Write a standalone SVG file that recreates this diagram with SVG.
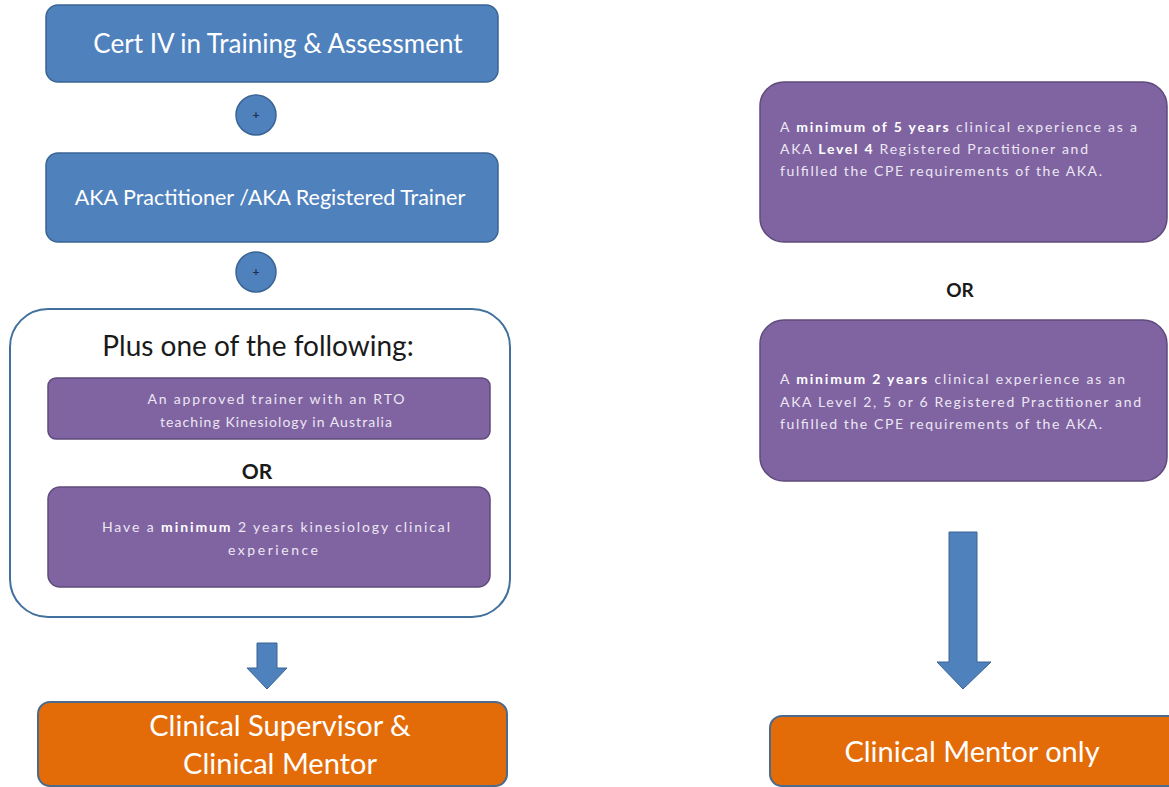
<svg xmlns="http://www.w3.org/2000/svg" width="1169" height="787" viewBox="0 0 1169 787">
<style>
text{font-family:Lato,"Open Sans","Liberation Sans",sans-serif}
.blue{fill:#4f81bd;stroke:#3a6494;stroke-width:1.5}
.purple{fill:#8064a2;stroke:#5f4b7b;stroke-width:1.5}
.orange{fill:#e36c09;stroke:#4b6a8c;stroke-width:2}
.frame{fill:#fff;stroke:#41719c;stroke-width:2}
.arrow{fill:#4f81bd;stroke:#3a6494;stroke-width:1}
.wt{fill:#fff;text-anchor:middle}
.pt{fill:#ece7f2;font-size:14px}
.ptc{fill:#ece7f2;font-size:14px;text-anchor:middle}
.or{font-weight:bold;fill:#1a1a1a;text-anchor:middle}
.plus{fill:#1f2f4f;font-size:12px;text-anchor:middle;font-weight:bold}
.b{font-weight:bold;fill:#fff}
</style>
<g id="connectors">
<polygon class="arrow" points="257,643 277,643 277,668 287,668 267,689 247,668 257,668"/>
<polygon class="arrow" points="949,532 977,532 977,662 991,662 963,689 937,662 949,662"/>
</g>
<g id="cert4">
<rect class="blue" x="46" y="5" width="452" height="77" rx="12"/>
<text class="wt" x="278" y="53" font-size="26">Cert IV in Training &amp; Assessment</text>
</g>
<g id="plus1">
<circle class="blue" cx="256" cy="115" r="20"/>
<text class="plus" x="256" y="119">+</text>
</g>
<g id="aka">
<rect class="blue" x="46" y="153" width="452" height="89" rx="12"/>
<text class="wt" x="270" y="205" font-size="21.5">AKA Practitioner /AKA Registered Trainer</text>
</g>
<g id="plus2">
<circle class="blue" cx="256" cy="272" r="20"/>
<text class="plus" x="256" y="276">+</text>
</g>
<g id="plusone">
<rect class="frame" x="10" y="309" width="500" height="308" rx="38"/>
<text x="258" y="356" font-size="28" fill="#1a1a1a" text-anchor="middle">Plus one of the following:</text>
</g>
<g id="opt1">
<rect class="purple" x="48" y="378" width="442" height="61" rx="8"/>
<text class="ptc" x="276" y="404" textLength="257" lengthAdjust="spacing">An approved trainer with an RTO</text>
<text class="ptc" x="276" y="427" textLength="232" lengthAdjust="spacing">teaching Kinesiology in Australia</text>
</g>
<g id="or1">
<text class="or" x="257" y="479" font-size="21">OR</text>
</g>
<g id="opt2">
<rect class="purple" x="48" y="487" width="442" height="100" rx="12"/>
<text class="ptc" x="276" y="532" textLength="348" lengthAdjust="spacing">Have a <tspan class="b">minimum</tspan> 2 years kinesiology clinical</text>
<text class="ptc" x="273" y="555" textLength="90" lengthAdjust="spacing">experience</text>
</g>
<g id="supervisor">
<rect class="orange" x="38" y="702" width="469" height="84" rx="12"/>
<text class="wt" x="280" y="736" font-size="29">Clinical Supervisor &amp;</text>
<text class="wt" x="280" y="774" font-size="29">Clinical Mentor</text>
</g>
<g id="r5years">
<rect class="purple" x="760" y="82" width="407" height="160" rx="24"/>
<text class="pt" x="780" y="132" textLength="357" lengthAdjust="spacing">A <tspan class="b">minimum of 5 years</tspan> clinical experience as a</text>
<text class="pt" x="780" y="154" textLength="308" lengthAdjust="spacing">AKA <tspan class="b">Level 4</tspan> Registered Practitioner and</text>
<text class="pt" x="780" y="176" textLength="322" lengthAdjust="spacing">fulfilled the CPE requirements of the AKA.</text>
</g>
<g id="or2">
<text class="or" x="960" y="297" font-size="19">OR</text>
</g>
<g id="r2years">
<rect class="purple" x="760" y="320" width="407" height="161" rx="24"/>
<text class="pt" x="780" y="384" textLength="345" lengthAdjust="spacing">A <tspan class="b">minimum 2 years</tspan> clinical experience as an</text>
<text class="pt" x="780" y="407" textLength="361" lengthAdjust="spacing">AKA Level 2, 5 or 6 Registered Practitioner and</text>
<text class="pt" x="780" y="429" textLength="322" lengthAdjust="spacing">fulfilled the CPE requirements of the AKA.</text>
</g>
<g id="mentor">
<rect class="orange" x="770" y="716" width="420" height="70" rx="12"/>
<text class="wt" x="972" y="762" font-size="29">Clinical Mentor only</text>
</g>
</svg>
